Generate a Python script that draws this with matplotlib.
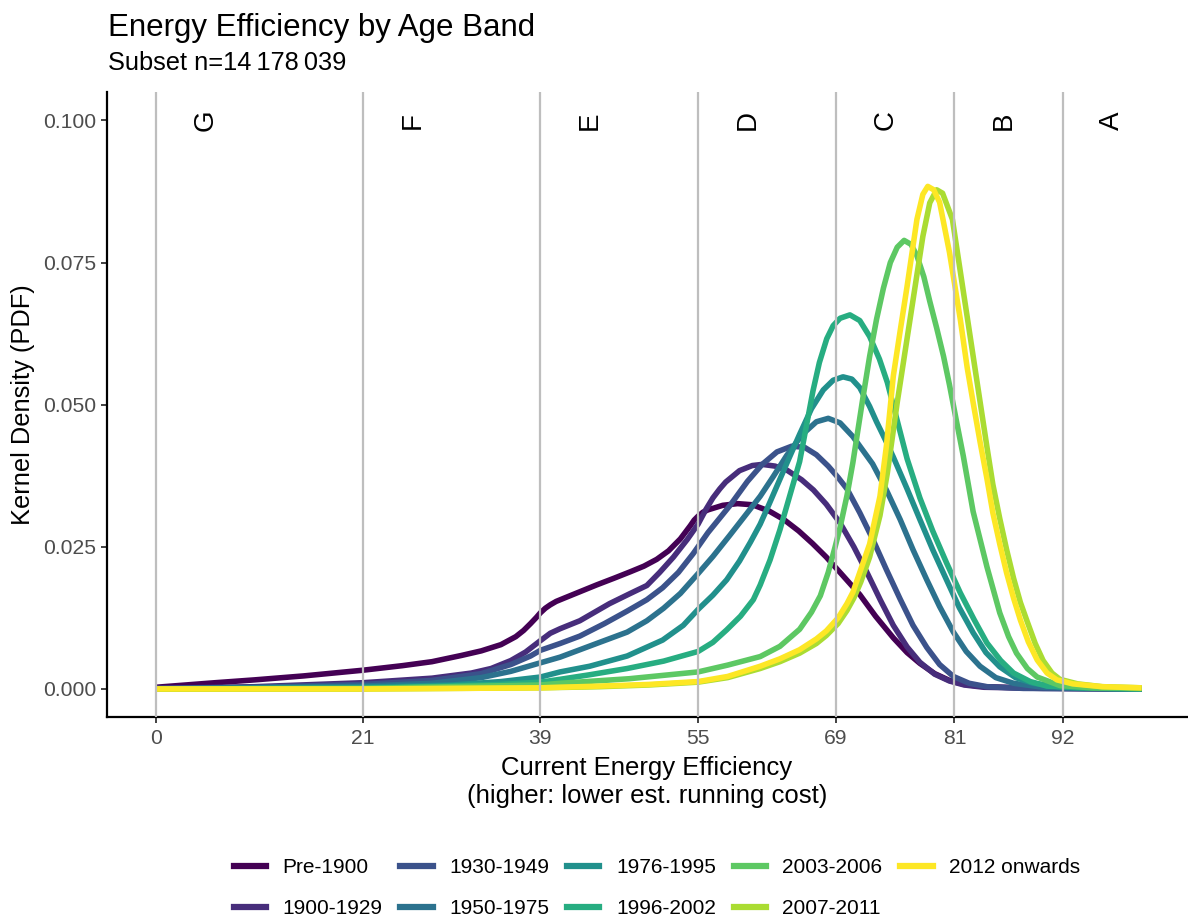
import matplotlib
matplotlib.use("Agg")
import matplotlib.pyplot as plt
from matplotlib.lines import Line2D

plt.rcParams['font.family'] = ['Liberation Sans', 'DejaVu Sans']

# ---------------- data ----------------
age_bands = ["Pre-1900", "1900-1929", "1930-1949", "1950-1975", "1976-1995",
             "1996-2002", "2003-2006", "2007-2011", "2012 onwards"]
band_colors = ["#440154", "#472D7B", "#3B528B", "#2C728E", "#21908C",
               "#27AD81", "#5DC863", "#AADC32", "#FDE725"]
rating_edges = [0, 21, 39, 55, 69, 81, 92]
rating_letters = ["G", "F", "E", "D", "C", "B", "A"]
y_ticks = [0.000, 0.025, 0.050, 0.075, 0.100]

pre1900_x = [0, 3, 6, 10, 15, 21, 25, 28, 31, 33, 35, 36.5, 37.3, 38, 38.6, 39, 39.5, 40, 40.6, 41.3,
             43, 44.7, 46.5, 48.1, 49.5, 50.8, 52, 53.2, 54.2, 54.6, 55, 55.5, 56, 57.5, 59, 60.5, 62.2,
             63.7, 65.2, 66.6, 68, 69.5, 71.4, 73, 74.8, 76.2, 77.5, 79, 80.5, 82, 84, 88, 93, 100]
pre1900_y = [0.0003, 0.0007, 0.0011, 0.0016, 0.0023, 0.0033, 0.0041, 0.0048, 0.0059, 0.0067, 0.0078,
             0.0092, 0.0103, 0.0115, 0.0126, 0.0134, 0.0142, 0.0148, 0.0154, 0.0159, 0.0171, 0.0183,
             0.0195, 0.0206, 0.0216, 0.0228, 0.0243, 0.0264, 0.0287, 0.0297, 0.0304, 0.0311, 0.0315,
             0.0323, 0.0326, 0.0324, 0.0313, 0.0298, 0.0278, 0.0256, 0.0232, 0.0203, 0.0166, 0.0128,
             0.0090, 0.0064, 0.0045, 0.0027, 0.0015, 0.0008, 0.0004, 0.0002, 0.0001, 0.0000]

b1900_x = [0, 10, 21, 28, 32, 34, 36, 37.5, 39, 40, 41, 43, 46, 48, 49.8, 51.1, 52.5, 53.9, 55, 55.8,
           56.5, 57.2, 57.8, 59.2, 60.5, 61.5, 62.8, 64, 65.5, 66.7, 68, 69.4, 70.8, 72.1, 73.5, 74.8,
           76.2, 77.5, 79, 80.5, 82, 84, 90, 100]
b1900_y = [0.0001, 0.0004, 0.0011, 0.0019, 0.0028, 0.0036, 0.0050, 0.0065, 0.0085, 0.0098, 0.0106,
           0.0120, 0.0150, 0.0167, 0.0182, 0.0205, 0.0232, 0.0263, 0.0290, 0.0316, 0.0336, 0.0352,
           0.0364, 0.0384, 0.0393, 0.0395, 0.0392, 0.0385, 0.0368, 0.0350, 0.0325, 0.0292, 0.0250,
           0.0206, 0.0156, 0.0112, 0.0074, 0.0047, 0.0026, 0.0014, 0.0007, 0.0003, 0.0001, 0.0000]

b1930_x = [0, 10, 21, 28, 33, 36, 38, 39, 41, 43, 45.5, 47.8, 49.8, 51.4, 53, 54.5, 56, 58.2, 60, 61.5,
           63, 64.5, 65.8, 67, 68.2, 69.2, 70.1, 71.4, 72.7, 74.1, 75.5, 76.8, 78.2, 79.5, 80.9, 82.5,
           84.3, 88, 100]
b1930_y = [0.0001, 0.0003, 0.0008, 0.0015, 0.0027, 0.0043, 0.0058, 0.0068, 0.0080, 0.0093, 0.0115,
           0.0137, 0.0157, 0.0178, 0.0205, 0.0238, 0.0275, 0.0322, 0.0365, 0.0395, 0.0417, 0.0427,
           0.0425, 0.0412, 0.0392, 0.0372, 0.0352, 0.0310, 0.0264, 0.0210, 0.0158, 0.0112, 0.0073,
           0.0043, 0.0022, 0.0010, 0.0004, 0.0001, 0.0000]

b1950_x = [0, 21, 28, 33, 36, 39, 41, 44.7, 47.8, 49.8, 51.5, 53.2, 55, 56.5, 58.2, 60, 61.3, 62.6, 64,
           65.6, 67, 68.2, 69.4, 70.7, 71.7, 72.7, 74.1, 75.5, 76.8, 78.2, 79.5, 80.9, 82.2, 83.6, 85.2,
           87, 90, 94, 100]
b1950_y = [0.0000, 0.0005, 0.0010, 0.0020, 0.0031, 0.0046, 0.0056, 0.0080, 0.0100, 0.0120, 0.0142,
           0.0168, 0.0203, 0.0233, 0.0270, 0.0310, 0.0339, 0.0373, 0.0411, 0.0448, 0.0470, 0.0476,
           0.0468, 0.0444, 0.0420, 0.0396, 0.0350, 0.0298, 0.0245, 0.0192, 0.0145, 0.0100, 0.0066,
           0.0040, 0.0020, 0.0010, 0.0003, 0.0001, 0.0000]

b1976_x = [0, 21, 30, 35, 39, 41, 44, 47.8, 51.4, 53.5, 55, 56.5, 57.9, 59.2, 60.3, 61.3, 62.2, 63.2,
           64.2, 65.3, 66.5, 67.7, 68.7, 69.7, 70.6, 71.4, 72.4, 73.1, 74, 74.8, 76.2, 77.5, 78.8, 80.2,
           81.5, 82.9, 84.2, 85.6, 87.2, 89, 92, 96, 100]
b1976_y = [0.0000, 0.0003, 0.0007, 0.0013, 0.0021, 0.0030, 0.0040, 0.0058, 0.0086, 0.0112, 0.0140,
           0.0165, 0.0192, 0.0225, 0.0258, 0.0290, 0.0325, 0.0365, 0.0405, 0.0448, 0.0493, 0.0526,
           0.0543, 0.0549, 0.0545, 0.0530, 0.0497, 0.0470, 0.0438, 0.0408, 0.0352, 0.0298, 0.0245,
           0.0192, 0.0143, 0.0099, 0.0064, 0.0039, 0.0020, 0.0010, 0.0003, 0.0001, 0.0000]

b1996_x = [0, 21, 35, 39, 41, 44, 47.8, 51.5, 55, 56.5, 57.9, 59.3, 60.6, 61.3, 62.3, 63.3, 64.3, 65.3,
           66.0, 66.65, 67.3, 68.05, 68.7, 69.4, 70.4, 71.4, 72.4, 73.4, 74.2, 75.2, 76.2, 77.5, 78.8,
           80.2, 81.6, 83, 84.3, 85.7, 87, 88.7, 90.4, 94, 100]
b1996_y = [0.0000, 0.0001, 0.0008, 0.0012, 0.0017, 0.0025, 0.0036, 0.0049, 0.0066, 0.0082, 0.0104,
           0.0128, 0.0157, 0.0183, 0.0227, 0.0280, 0.0340, 0.0400, 0.0464, 0.0524, 0.0574, 0.0616,
           0.0639, 0.0652, 0.0658, 0.0648, 0.0620, 0.0580, 0.0539, 0.0472, 0.0405, 0.0336, 0.0278,
           0.0222, 0.0169, 0.0122, 0.0081, 0.0050, 0.0028, 0.0013, 0.0005, 0.0002, 0.0000]

b2003_x = [0, 21, 39, 41, 48, 55, 58, 61.3, 63.3, 65.3, 66.5, 67.4, 68.2, 68.9, 69.4, 70.1, 70.7, 71.7,
           72.4, 73.1, 73.8, 74.5, 75.2, 75.9, 76.6, 77.2, 77.9, 78.5, 79.2, 79.9, 80.5, 81.2, 81.9,
           82.9, 84.3, 85.6, 86.5, 87.3, 88.4, 89.4, 91.7, 95, 100]
b2003_y = [0.0000, 0.0001, 0.0007, 0.0010, 0.0018, 0.0030, 0.0042, 0.0057, 0.0075, 0.0105, 0.0135,
           0.0164, 0.0205, 0.0250, 0.0284, 0.0340, 0.0398, 0.0510, 0.0585, 0.0650, 0.0705, 0.0750,
           0.0777, 0.0789, 0.0782, 0.0762, 0.0725, 0.0682, 0.0635, 0.0585, 0.0535, 0.0472, 0.0410,
           0.0312, 0.0215, 0.0134, 0.0092, 0.0063, 0.0036, 0.0021, 0.0006, 0.0002, 0.0001]

b2007_x = [0, 21, 39, 45, 50, 55, 58, 61.3, 63.3, 65.3, 67, 68, 69.2, 70.1, 70.8, 71.5, 72.4, 73.45,
           74.2, 75.2, 76.5, 77.8, 78.5, 79.2, 79.8, 80.8, 81.9, 82.6, 83.3, 84.3, 84.9, 85.6, 86.3, 87,
           87.7, 88.4, 89.2, 90, 90.9, 91.7, 93.5, 96, 100]
b2007_y = [0.0000, 0.0000, 0.0002, 0.0004, 0.0007, 0.0012, 0.0020, 0.0036, 0.0048, 0.0063, 0.0080,
           0.0094, 0.0115, 0.0138, 0.0160, 0.0188, 0.0232, 0.0305, 0.0380, 0.0504, 0.0650, 0.0796,
           0.0855, 0.0878, 0.0872, 0.0826, 0.0700, 0.0620, 0.0540, 0.0426, 0.0360, 0.0300, 0.0245,
           0.0195, 0.0152, 0.0118, 0.0080, 0.0050, 0.0028, 0.0017, 0.0009, 0.0004, 0.0002]

b2012_x = [0, 21, 39, 45, 50, 55, 58, 61.3, 63.3, 65.3, 67, 68, 69.2, 70.1, 70.7, 71.4, 72.4, 73.45,
           74.1, 74.8, 75.5, 76.2, 77.2, 77.8, 78.3, 78.9, 79.5, 80.5, 81.6, 82.3, 82.9, 83.6, 84.3,
           84.9, 85.6, 86.3, 87, 87.7, 88.5, 89.4, 90.4, 91.4, 93, 96, 100]
b2012_y = [0.0000, 0.0000, 0.0002, 0.0005, 0.0008, 0.0013, 0.0022, 0.0040, 0.0053, 0.0069, 0.0088,
           0.0102, 0.0125, 0.0150, 0.0170, 0.0205, 0.0255, 0.0339, 0.0427, 0.0550, 0.0630, 0.0708,
           0.0826, 0.0870, 0.0884, 0.0878, 0.0856, 0.0768, 0.0650, 0.0565, 0.0504, 0.0435, 0.0370,
           0.0310, 0.0255, 0.0204, 0.0160, 0.0121, 0.0083, 0.0051, 0.0028, 0.0016, 0.0009, 0.0004,
           0.0002]

series_x = [pre1900_x, b1900_x, b1930_x, b1950_x, b1976_x, b1996_x, b2003_x, b2007_x, b2012_x]
series_y = [pre1900_y, b1900_y, b1930_y, b1950_y, b1976_y, b1996_y, b2003_y, b2007_y, b2012_y]

# ---------------- figure ----------------
W, H = 1188, 921
fig = plt.figure(figsize=(W / 100, H / 100), dpi=100)
ax = fig.add_axes([107 / W, 1 - 717 / H, (1188 - 107) / W, (717 - 92) / H])

for xs, ys, col, lab in zip(series_x, series_y, band_colors, age_bands):
    ax.plot(xs, ys, color=col, lw=4.0, solid_capstyle='butt', solid_joinstyle='round',
            label=lab, zorder=2)

for e in rating_edges:
    ax.axvline(e, color="#BEBEBE", lw=1.6, zorder=3)

for e, letter in zip(rating_edges, rating_letters):
    ax.text(e + 5, 0.100, letter, rotation=90, ha='center', va='center',
            fontsize=20, color='black', zorder=4)

ax.set_xlim(-4.97, 104.7)
ax.set_ylim(-0.00493, 0.105)
ax.set_xticks(rating_edges)
ax.set_xticklabels([str(e) for e in rating_edges])
ax.set_yticks(y_ticks)
ax.set_yticklabels([f"{v:.3f}" for v in y_ticks])

for s in ['top', 'right']:
    ax.spines[s].set_visible(False)
for s in ['left', 'bottom']:
    ax.spines[s].set_linewidth(1.6)
    ax.spines[s].set_color('black')
ax.tick_params(axis='both', length=4, width=1.3, color='#333333',
               labelcolor='#4D4D4D', labelsize=15.2)
ax.tick_params(axis='x', pad=4.5)
ax.tick_params(axis='y', pad=4)

# titles and labels
fig.text(108 / W, 1 - 36 / H, "Energy Efficiency by Age Band", fontsize=22.5,
         ha='left', va='baseline', color='black')
fig.text(108 / W, 1 - 70 / H, "Subset n=14\u2009178\u2009039", fontsize=18.3,
         ha='left', va='baseline', color='black')
fig.text(647 / W, 1 - 775 / H, "Current Energy Efficiency", fontsize=18.5,
         ha='center', va='baseline')
fig.text(647 / W, 1 - 803 / H, "(higher: lower est. running cost)", fontsize=18.5,
         ha='center', va='baseline')
fig.text(23 / W, 1 - 405 / H, "Kernel Density (PDF)", fontsize=18.3, rotation=90,
         ha='center', va='center')

handles = [Line2D([0], [0], color=c, lw=4.5) for c in band_colors]
fig.legend(handles, age_bands, loc='center', bbox_to_anchor=(657 / W, 1 - 888 / H),
           ncol=5, frameon=False, fontsize=15.0, handlelength=1.55, handletextpad=0.8,
           columnspacing=0.85, labelspacing=1.05)

fig.savefig("out.png", dpi=100)
